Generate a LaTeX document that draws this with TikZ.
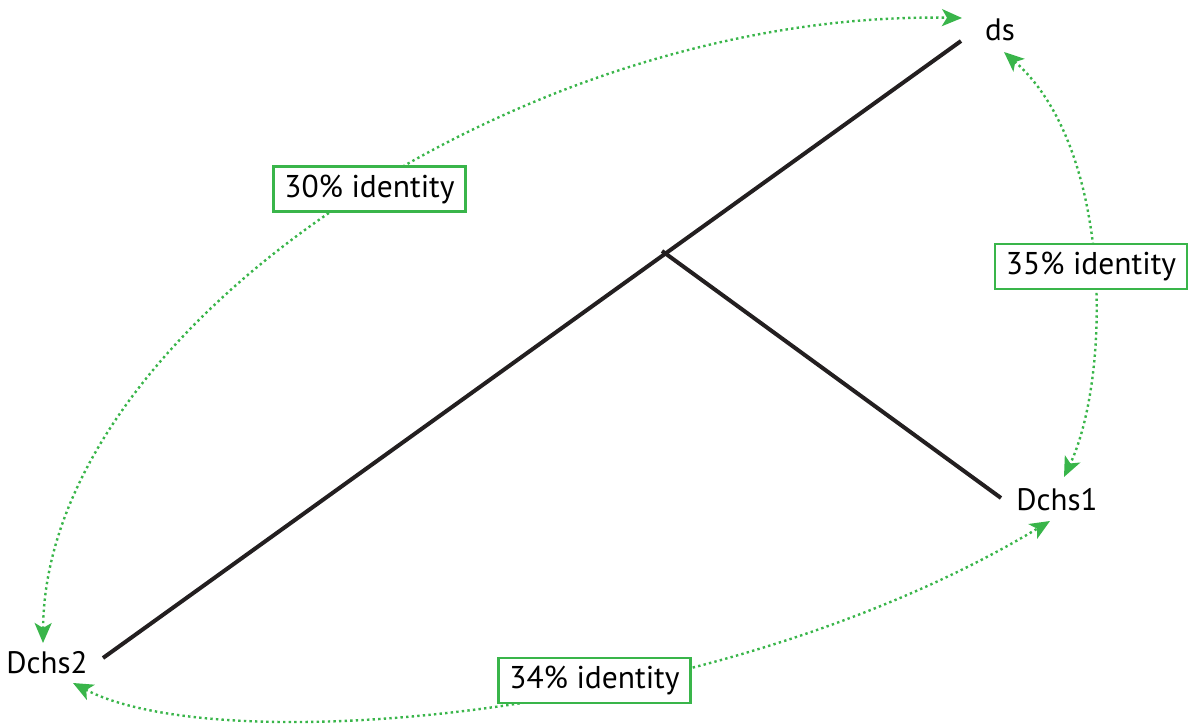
\documentclass[tikz,border=0pt]{standalone}
\usepackage{fontspec}
\setmainfont{PT Sans}
\usetikzlibrary{arrows.meta}
\definecolor{idgreen}{RGB}{57,181,74}
\definecolor{branch}{RGB}{35,31,32}
\begin{document}
\begin{tikzpicture}[x=1pt,y=-1pt,
  taxon/.style={inner sep=0pt,font=\fontsize{31}{36}\selectfont},
  branchline/.style={draw=branch,line width=4pt},
  simlink/.style={draw=idgreen,line width=2.4pt,dash pattern=on 2.4pt off 3.2pt,
    {Stealth[length=20pt,width=17pt,inset=5pt]}-{Stealth[length=20pt,width=17pt,inset=5pt]}},
  idbox/.style={draw=idgreen,line width=2.6pt,fill=white,inner xsep=11pt,
    minimum height=45pt,font=\fontsize{31.5}{36}\selectfont}]
\useasboundingbox (0,0) rectangle (1189,725);

% taxa
\node[taxon] (ds) at (1000,30) {ds};
\node[taxon] (dchs1) at (1057,500) {Dchs1};
\node[taxon] (dchs2) at (47,663) {Dchs2};

% tree
\coordinate (root) at (662,251);
\coordinate (leafds) at (961,41);
\coordinate (leafd1) at (1001,498);
\coordinate (leafd2) at (103,658);
\draw[branchline] (leafd2) -- (leafds);
\draw[branchline] (root) -- (leafd1);

% arrow end points next to the labels
\coordinate (a1) at (962,18);
\coordinate (a2) at (43,643);
\coordinate (b1) at (1004,52);
\coordinate (b2) at (1064,477);
\coordinate (c1) at (73,683);
\coordinate (c2) at (1050,521);

% pairwise identity links
\draw[simlink] (a2) .. controls (45,330) and (520,10) .. (a1);
\draw[simlink] (b1) .. controls (1115,150) and (1110,380) .. (b2);
\draw[simlink] (c1) .. controls (220,760) and (720,720) .. (c2);

% identity labels
\node[idbox] (id30) at (369.5,189) {30\% identity};
\node[idbox] (id35) at (1091,266.5) {35\% identity};
\node[idbox] (id34) at (594.5,680.5) {34\% identity};
\end{tikzpicture}
\end{document}
